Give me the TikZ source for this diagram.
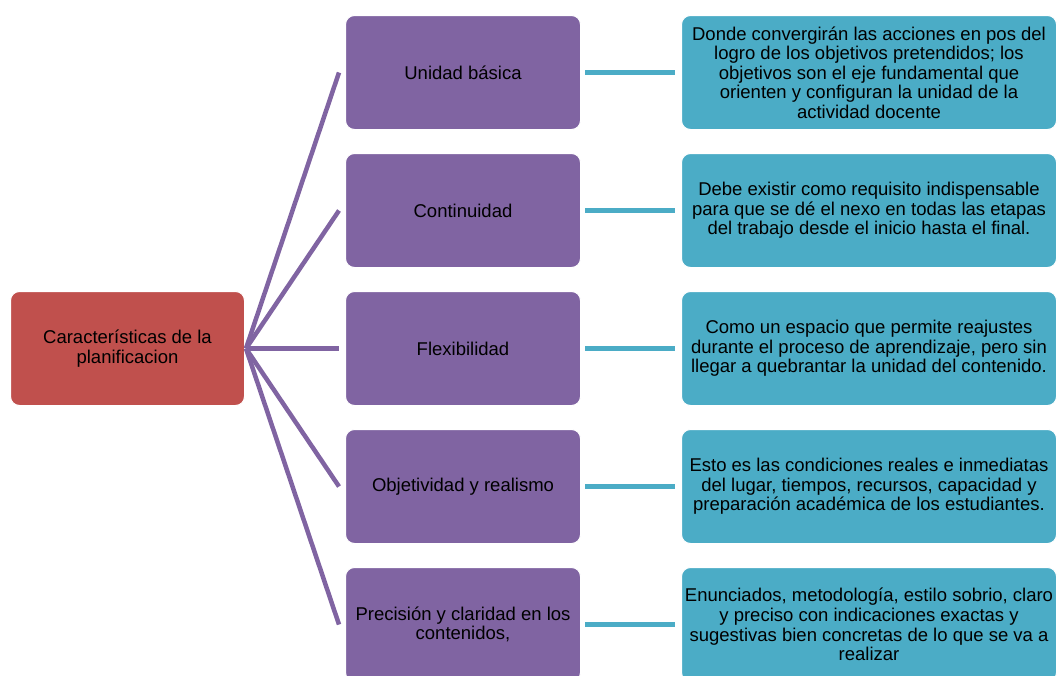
\documentclass[tikz,border=0pt]{standalone}
\usepackage{fontspec}
\setmainfont{Liberation Sans}
\definecolor{rootc}{HTML}{C0504D}
\definecolor{midc}{HTML}{8064A2}
\definecolor{leafc}{HTML}{4BACC6}
\begin{document}
\begin{tikzpicture}[x=1pt,y=-1pt,
  box/.style={rounded corners=9pt, draw=white, line width=1pt, inner sep=0pt, align=center, font=\fontsize{18.5}{19.6}\selectfont},
  rootbox/.style={box, fill=rootc, minimum width=234pt, minimum height=114pt},
  midbox/.style={box, fill=midc, minimum width=235pt, minimum height=114pt},
  leafbox/.style={box, fill=leafc, minimum width=375pt, minimum height=114pt},
  pline/.style={draw=midc, line width=4.5pt},
  tline/.style={draw=leafc, line width=5pt}]
\useasboundingbox (0,0) rectangle (1059,675);
\clip (0,0) rectangle (1059,675);
\node[rootbox] (root) at (127.5,348.5) {Características de la\\planificacion};
\node[midbox] (m1) at (463,72.5) {Unidad básica};
\node[midbox] (m2) at (463,210.5) {Continuidad};
\node[midbox] (m3) at (463,348.5) {Flexibilidad};
\node[midbox] (m4) at (463,486.5) {Objetividad y realismo};
\node[midbox] (m5) at (463,624.5) {Precisión y claridad en los\\contenidos,};
\node[leafbox] (l1) at (869,72.5) {Donde convergirán las acciones en pos del\\logro de los objetivos pretendidos; los\\objetivos son el eje fundamental que\\orienten y configuran la unidad de la\\actividad docente};
\node[leafbox] (l2) at (869,210.5) {Debe existir como requisito indispensable\\para que se dé el nexo en todas las etapas\\del trabajo desde el inicio hasta el final.};
\node[leafbox] (l3) at (869,348.5) {Como un espacio que permite reajustes\\durante el proceso de aprendizaje, pero sin\\llegar a quebrantar la unidad del contenido.};
\node[leafbox] (l4) at (869,486.5) {Esto es las condiciones reales e inmediatas\\del lugar, tiempos, recursos, capacidad y\\preparación académica de los estudiantes.};
\node[leafbox] (l5) at (869,624.5) {Enunciados, metodología, estilo sobrio, claro\\y preciso con indicaciones exactas y\\sugestivas bien concretas de lo que se va a\\realizar};
\foreach \i in {1,...,5}{
  \draw[pline] ([xshift=1pt]root.east) -- ([xshift=-6pt]m\i.west);
  \draw[tline] ([xshift=4pt]m\i.east) -- ([xshift=-6pt]l\i.west);
}
\end{tikzpicture}
\end{document}
